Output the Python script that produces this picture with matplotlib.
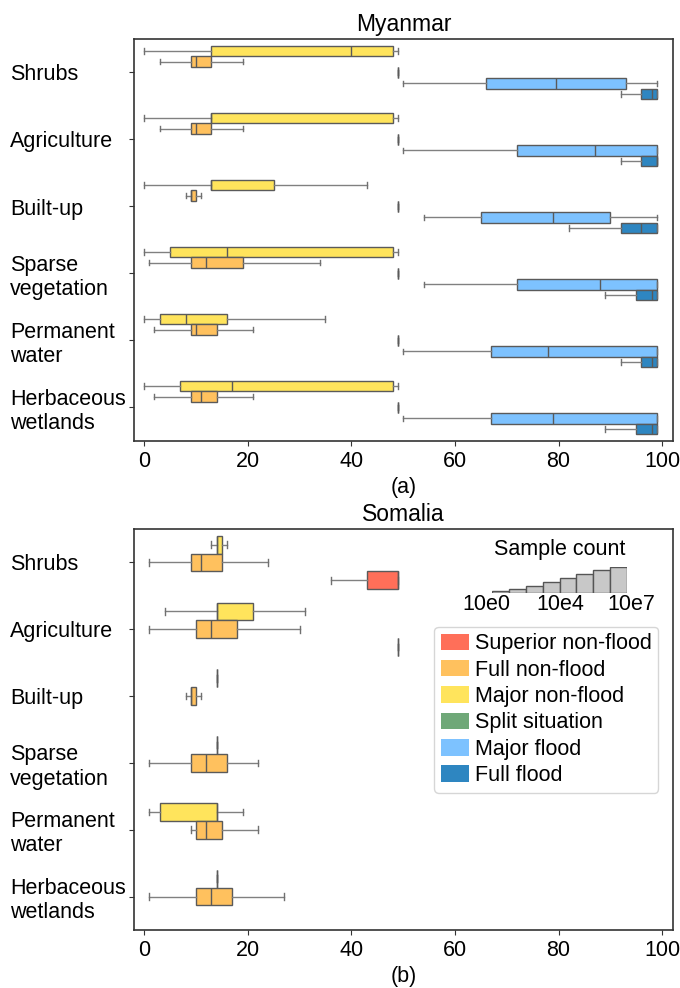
import matplotlib.pyplot as plt
from matplotlib.patches import Patch

plt.rcParams['font.family'] = ['Liberation Sans', 'DejaVu Sans']
plt.rcParams['font.size'] = 15.5

categories = ['Shrubs', 'Agriculture', 'Built-up', 'Sparse\nvegetation',
              'Permanent\nwater', 'Herbaceous\nwetlands']

classes = ['Superior non-flood', 'Full non-flood', 'Major non-flood',
           'Split situation', 'Major flood', 'Full flood']
class_colors = ['#FF6F59', '#FFC15E', '#FFE45C', '#6FA878', '#7DC2FF', '#2E86C1']

# (whisker low, q1, median, q3, whisker high) per category, None = no data
myanmar_major_nonflood = [(0, 13, 40, 48, 49), (0, 13, 13, 48, 49), (0, 13, 13, 25, 43),
                          (0, 5, 16, 48, 49), (0, 3, 8, 16, 35), (0, 7, 17, 48, 49)]
myanmar_full_nonflood = [(3, 9, 10, 13, 19), (3, 9, 10, 13, 19), (8, 9, 9, 10, 11),
                         (1, 9, 12, 19, 34), (2, 9, 10, 14, 21), (2, 9, 11, 14, 21)]
myanmar_split = [(49, 49, 49, 49, 49), (49, 49, 49, 49, 49), (49, 49, 49, 49, 49),
                 (49, 49, 49, 49, 49), (49, 49, 49, 49, 49), (49, 49, 49, 49, 49)]
myanmar_major_flood = [(50, 66, 79.5, 93, 99), (50, 72, 87, 99, 99), (54, 65, 79, 90, 99),
                       (54, 72, 88, 99, 99), (50, 67, 78, 99, 99), (50, 67, 79, 99, 99)]
myanmar_full_flood = [(92, 96, 98, 99, 99), (92, 96, 99, 99, 99), (82, 92, 96, 99, 99),
                      (89, 95, 98, 99, 99), (92, 96, 98, 99, 99), (89, 95, 98, 99, 99)]

somalia_major_nonflood = [(13, 14, 14, 15, 16), (4, 14, 14, 21, 31), (14, 14, 14, 14, 14),
                          (14, 14, 14, 14, 14), (1, 3, 14, 14, 19), (14, 14, 14, 14, 14)]
somalia_full_nonflood = [(1, 9, 11, 15, 24), (1, 10, 13, 18, 30), (8, 9, 9, 10, 11),
                         (1, 9, 12, 16, 22), (9, 10, 12, 15, 22), (1, 10, 13, 17, 27)]
somalia_superior_nonflood = [(36, 43, 49, 49, 49), (49, 49, 49, 49, 49), None, None, None, None]

# sample count key
count_bar_heights = [2.3, 4.3, 7.7, 11.3, 15, 19, 23, 26.7]
count_labels = ['10e0', '10e4', '10e7']


def draw_panel(ax, series, title, xlabel, capw):
    n = len(series)
    w = 0.8 / n
    for k, (cls, vals) in enumerate(series):
        stats, pos = [], []
        for i, v in enumerate(vals):
            if v is None:
                continue
            lo, q1, med, q3, hi = v
            stats.append(dict(whislo=lo, q1=q1, med=med, q3=q3, whishi=hi, fliers=[]))
            pos.append(i - 0.4 + w * (k + 0.5))
        col = class_colors[classes.index(cls)]
        ax.bxp(stats, positions=pos, widths=w, capwidths=capw,
               orientation='horizontal', patch_artist=True, showfliers=False,
               manage_ticks=False,
               boxprops=dict(facecolor=col, edgecolor='#5a5a5a', linewidth=1),
               whiskerprops=dict(color='#808080', linewidth=1),
               capprops=dict(color='#707070', linewidth=1),
               medianprops=dict(color='#5a5a5a', linewidth=1))

    ax.set_ylim(5.5, -0.5)
    ax.set_xlim(-1.95, 102.1)
    ax.set_yticks(range(len(categories)))
    ax.set_yticklabels(categories)
    for lbl in ax.get_yticklabels():
        lbl.set_horizontalalignment('left')
    ax.tick_params(axis='y', pad=85.8, length=3.5, color='#333333')
    ax.set_xticks([0, 20, 40, 60, 80, 100])
    ax.tick_params(axis='x', length=3.5, color='#333333')
    ax.set_title(title, fontsize=16.5)
    ax.set_xlabel(xlabel, fontsize=15.5)
    for s in ax.spines.values():
        s.set_color('#333333')
        s.set_linewidth(1.2)


fig = plt.figure(figsize=(6.8, 9.88), dpi=100)
ax1 = fig.add_axes([134 / 680, 1 - 441 / 988, 539 / 680, 402 / 988])
ax2 = fig.add_axes([134 / 680, 1 - 930 / 988, 539 / 680, 401 / 988])

draw_panel(ax1, [('Major non-flood', myanmar_major_nonflood),
                 ('Full non-flood', myanmar_full_nonflood),
                 ('Split situation', myanmar_split),
                 ('Major flood', myanmar_major_flood),
                 ('Full flood', myanmar_full_flood)], 'Myanmar', '(a)', 0.08)
draw_panel(ax2, [('Major non-flood', somalia_major_nonflood),
                 ('Full non-flood', somalia_full_nonflood),
                 ('Superior non-flood', somalia_superior_nonflood)], 'Somalia', '(b)', 0.1)

# legend of classes
handles = [Patch(facecolor=c, edgecolor='none', label=l) for l, c in zip(classes, class_colors)]
ax2.legend(handles=handles, loc='upper left', bbox_to_anchor=(0.557, 0.756),
           borderaxespad=0, handlelength=1.3, handleheight=0.8, handletextpad=0.3,
           labelspacing=0.25, fontsize=15.5, borderpad=0.3)

# sample count key
axk = fig.add_axes([491.7 / 680, 1 - 593.3 / 988, 135.6 / 680, 26.7 / 988])
axk.bar(range(len(count_bar_heights)), count_bar_heights, width=1, align='edge',
        color='#c8c8c8', edgecolor='#555555', linewidth=1)
axk.set_xlim(0, len(count_bar_heights))
axk.set_ylim(0, max(count_bar_heights))
axk.axis('off')
for xp, t in zip([-0.34, 4.03, 8.22], count_labels):
    axk.text(xp, -0.6, t, ha='center', va='top', fontsize=15.5)
fig.text(559.5 / 680, 1 - 549 / 988, 'Sample count', ha='center', va='center', fontsize=15.5)

fig.savefig('out.png', dpi=100)
